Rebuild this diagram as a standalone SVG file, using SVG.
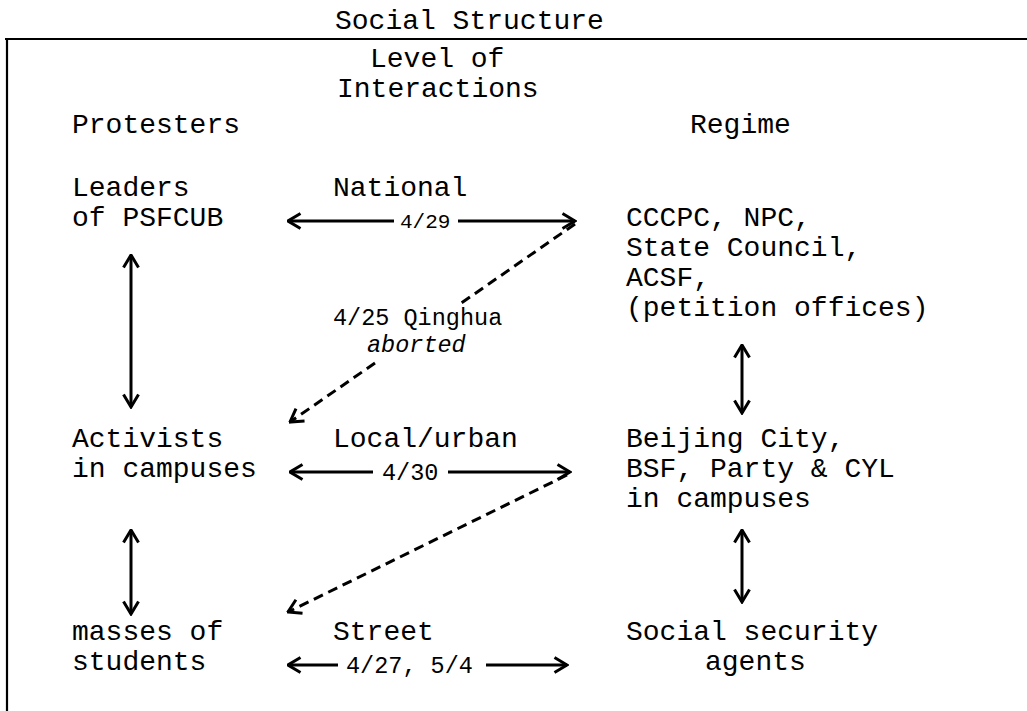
<svg xmlns="http://www.w3.org/2000/svg" width="1027" height="711" viewBox="0 0 1027 711">
  <style>
    text { font-family: "Liberation Mono", "DejaVu Sans Mono", monospace; fill: #000; }
    .t { font-size: 28px; }
    .s { font-size: 23.5px; }
    .xs { font-size: 21px; }
    .it { font-style: italic; }
    .ln { stroke: #000; stroke-width: 3; fill: none; }
    .dash { stroke: #000; stroke-width: 3; fill: none; stroke-dasharray: 10 6; }
    .frame { stroke: #000; stroke-width: 2.2; fill: none; }
  </style>
  <defs>
    <marker id="head" viewBox="0 0 16 18" refX="14.5" refY="9" markerWidth="16" markerHeight="18" markerUnits="userSpaceOnUse" orient="auto-start-reverse">
      <path d="M2,1.5 L14.5,9 L2,16.5" fill="none" stroke="#000" stroke-width="3" stroke-linejoin="miter"/>
    </marker>
  </defs>

  <!-- title and frame -->
  <text class="t" x="335" y="29">Social Structure</text>
  <path class="frame" d="M5,39 H1027 M7,39 V711"/>

  <g id="header">
    <text class="t" x="370" y="67">Level of</text>
    <text class="t" x="337" y="97">Interactions</text>
    <text class="t" x="72" y="133">Protesters</text>
    <text class="t" x="690" y="133">Regime</text>
  </g>

  <g id="leaders">
    <text class="t" x="72" y="196">Leaders</text>
    <text class="t" x="72" y="226">of PSFCUB</text>
  </g>
  <g id="activists">
    <text class="t" x="72" y="447">Activists</text>
    <text class="t" x="72" y="477">in campuses</text>
  </g>
  <g id="masses">
    <text class="t" x="72" y="640">masses of</text>
    <text class="t" x="72" y="670">students</text>
  </g>

  <g id="level-national"><text class="t" x="333" y="196">National</text></g>
  <g id="level-local"><text class="t" x="333" y="447">Local/urban</text></g>
  <g id="level-street"><text class="t" x="333" y="640">Street</text></g>

  <g id="central">
    <text class="t" x="626" y="226">CCCPC, NPC,</text>
    <text class="t" x="626" y="256">State Council,</text>
    <text class="t" x="626" y="286">ACSF,</text>
    <text class="t" x="626" y="316">(petition offices)</text>
  </g>
  <g id="city">
    <text class="t" x="626" y="447">Beijing City,</text>
    <text class="t" x="626" y="477">BSF, Party &amp; CYL</text>
    <text class="t" x="626" y="507">in campuses</text>
  </g>
  <g id="security">
    <text class="t" x="626" y="640">Social security</text>
    <text class="t" x="705" y="670">agents</text>
  </g>

  <g id="connectors">
    <!-- national level: 4/29 -->
    <path class="ln" d="M288,221 H394" marker-start="url(#head)"/>
    <path class="ln" d="M458,221 H575" marker-end="url(#head)"/>
    <text class="xs" x="400" y="228">4/29</text>

    <!-- local level: 4/30 -->
    <path class="ln" d="M290,472 H373" marker-start="url(#head)"/>
    <path class="ln" d="M448,472 H570" marker-end="url(#head)"/>
    <text class="s" x="382" y="480">4/30</text>

    <!-- street level: 4/27, 5/4 -->
    <path class="ln" d="M288,665 H338" marker-start="url(#head)"/>
    <path class="ln" d="M486,665 H567" marker-end="url(#head)"/>
    <text class="s" x="346" y="673">4/27, 5/4</text>

    <!-- aborted Qinghua contact, interrupted by its label -->
    <path class="dash" d="M575,224 L460,304"/>
    <path class="dash" d="M375,363 L290,422" marker-end="url(#head)"/>
    <text class="s" x="333" y="325">4/25 Qinghua</text>
    <text class="s it" x="367" y="352">aborted</text>

    <!-- city to street -->
    <path class="dash" d="M567,475 L288,612" marker-end="url(#head)"/>

    <!-- vertical links -->
    <path class="ln" d="M131,255 V407" marker-start="url(#head)" marker-end="url(#head)"/>
    <path class="ln" d="M131,530 V614" marker-start="url(#head)" marker-end="url(#head)"/>
    <path class="ln" d="M742,345 V413" marker-start="url(#head)" marker-end="url(#head)"/>
    <path class="ln" d="M742,530 V602" marker-start="url(#head)" marker-end="url(#head)"/>
  </g>
</svg>
